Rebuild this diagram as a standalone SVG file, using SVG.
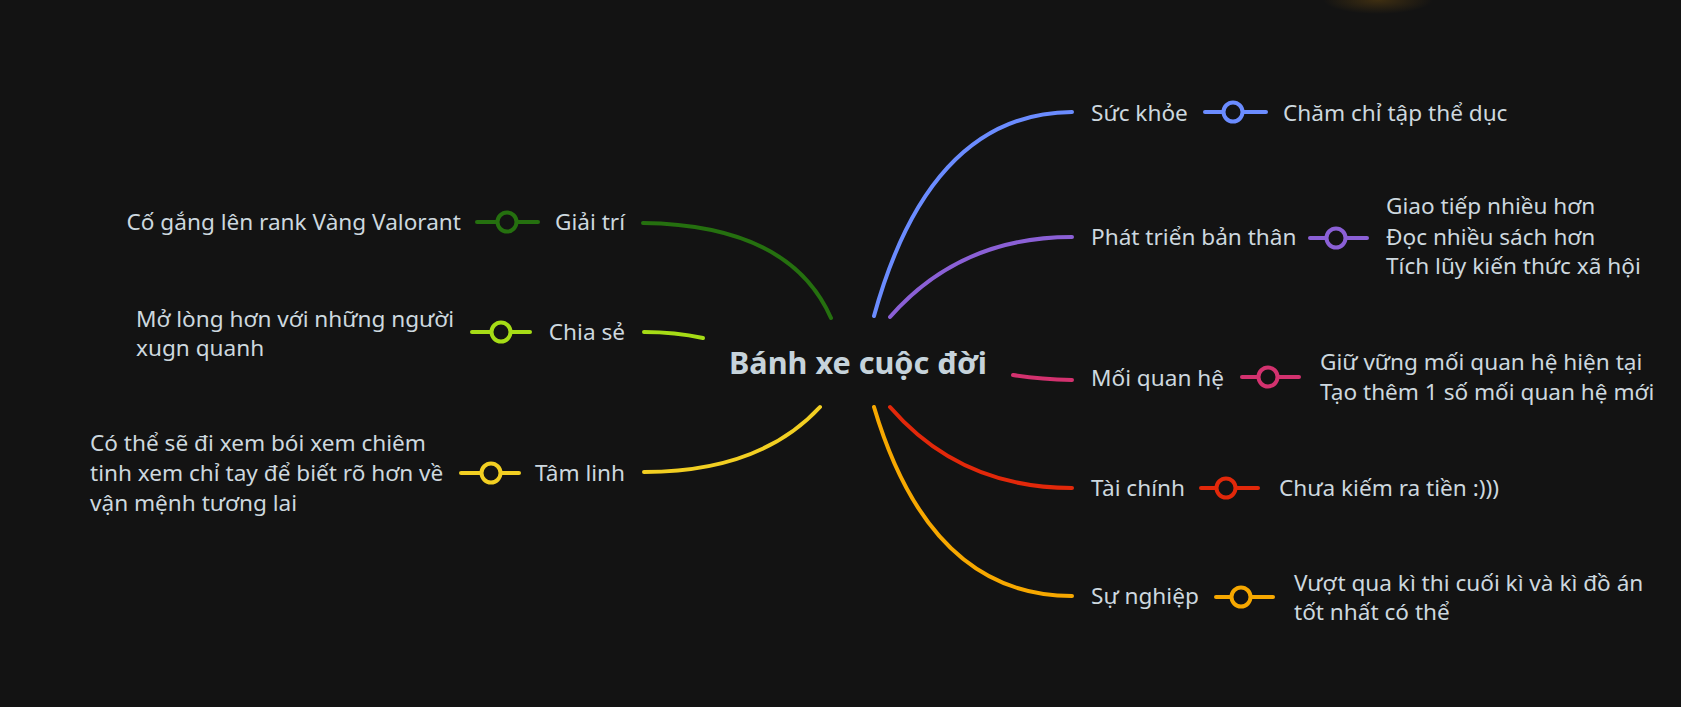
<svg xmlns="http://www.w3.org/2000/svg" width="1681" height="707" viewBox="0 0 1681 707">
<defs>
<radialGradient id="glow" cx="0.5" cy="0.5" r="0.5">
<stop offset="0" stop-color="#6a4a10" stop-opacity="0.5"/>
<stop offset="1" stop-color="#6a4a10" stop-opacity="0"/>
</radialGradient>
</defs>
<style>
.t{font-family:"Noto Sans","Open Sans",sans-serif;font-size:22.6px;fill:#cdd8df}
.e{text-anchor:end}
.c{font-family:"Noto Sans","Open Sans",sans-serif;font-size:30.6px;font-weight:bold;fill:#c6d3db}
.l{fill:none;stroke-width:4;stroke-linecap:round}
.k{fill:#131313;stroke-width:4}
</style>
<rect width="1681" height="707" fill="#131313"/>
<ellipse cx="1378" cy="0" rx="55" ry="14" fill="url(#glow)"/>
<g id="connectors">
<path class="l" stroke="#25700f" d="M831 318 Q790 225 643 223"/>
<path class="l" stroke="#a6dc16" d="M703 338 Q675 332 644 332"/>
<path class="l" stroke="#f2cf22" d="M820 407 Q760 472 644 472"/>
<path class="l" stroke="#6b8cff" d="M874 316 Q930 113 1072 112"/>
<path class="l" stroke="#8b60d6" d="M890 317 Q960 237 1072 237"/>
<path class="l" stroke="#d3326f" d="M1013 375 Q1040 379 1072 380"/>
<path class="l" stroke="#e2280a" d="M890 407 Q960 488 1072 488"/>
<path class="l" stroke="#f7a800" d="M874 407 Q930 596 1072 596"/>
<g id="links">
<line class="l" stroke="#25700f" x1="477" y1="222" x2="538" y2="222"/><circle class="k" stroke="#25700f" cx="507" cy="222" r="9.5"/>
<line class="l" stroke="#a6dc16" x1="472" y1="332" x2="530" y2="332"/><circle class="k" stroke="#a6dc16" cx="501" cy="332" r="9.5"/>
<line class="l" stroke="#f2cf22" x1="461" y1="473" x2="519" y2="473"/><circle class="k" stroke="#f2cf22" cx="491" cy="473" r="9.5"/>
<line class="l" stroke="#6b8cff" x1="1205" y1="112" x2="1266" y2="112"/><circle class="k" stroke="#6b8cff" cx="1233" cy="112" r="9.5"/>
<line class="l" stroke="#8b60d6" x1="1310" y1="238" x2="1367" y2="238"/><circle class="k" stroke="#8b60d6" cx="1336" cy="238" r="9.5"/>
<line class="l" stroke="#d3326f" x1="1242" y1="377" x2="1299" y2="377"/><circle class="k" stroke="#d3326f" cx="1268" cy="377" r="9.5"/>
<line class="l" stroke="#e2280a" x1="1201" y1="488" x2="1258" y2="488"/><circle class="k" stroke="#e2280a" cx="1226" cy="488" r="9.5"/>
<line class="l" stroke="#f7a800" x1="1216" y1="597" x2="1273" y2="597"/><circle class="k" stroke="#f7a800" cx="1241" cy="597" r="9.5"/>
</g>
</g>
<g id="center"><text class="c" x="729" y="374">Bánh xe cuộc đời</text></g>
<g id="giai-tri"><text class="t e" x="625" y="230">Giải trí</text></g>
<g id="giai-tri-1"><text class="t e" x="461" y="230">Cố gắng lên rank Vàng Valorant</text></g>
<g id="chia-se"><text class="t e" x="625" y="340">Chia sẻ</text></g>
<g id="chia-se-1"><text class="t" x="136" y="327">Mở lòng hơn với những người</text><text class="t" x="136" y="356">xugn quanh</text></g>
<g id="tam-linh"><text class="t e" x="625" y="481">Tâm linh</text></g>
<g id="tam-linh-1"><text class="t" x="90" y="451">Có thể sẽ đi xem bói xem chiêm</text><text class="t" x="90" y="481">tinh xem chỉ tay để biết rõ hơn về</text><text class="t" x="90" y="511">vận mệnh tương lai</text></g>
<g id="suc-khoe"><text class="t" x="1091" y="121">Sức khỏe</text></g>
<g id="suc-khoe-1"><text class="t" x="1283" y="121">Chăm chỉ tập thể dục</text></g>
<g id="phat-trien"><text class="t" x="1091" y="245">Phát triển bản thân</text></g>
<g id="phat-trien-1"><text class="t" x="1386" y="214">Giao tiếp nhiều hơn</text><text class="t" x="1386" y="245">Đọc nhiều sách hơn</text><text class="t" x="1386" y="274">Tích lũy kiến thức xã hội</text></g>
<g id="moi-quan-he"><text class="t" x="1091" y="386">Mối quan hệ</text></g>
<g id="moi-quan-he-1"><text class="t" x="1320" y="370">Giữ vững mối quan hệ hiện tại</text><text class="t" x="1320" y="400">Tạo thêm 1 số mối quan hệ mới</text></g>
<g id="tai-chinh"><text class="t" x="1091" y="496">Tài chính</text></g>
<g id="tai-chinh-1"><text class="t" x="1279" y="496">Chưa kiếm ra tiền :)))</text></g>
<g id="su-nghiep"><text class="t" x="1091" y="604">Sự nghiệp</text></g>
<g id="su-nghiep-1"><text class="t" x="1294" y="591">Vượt qua kì thi cuối kì và kì đồ án</text><text class="t" x="1294" y="620">tốt nhất có thể</text></g>
</svg>
